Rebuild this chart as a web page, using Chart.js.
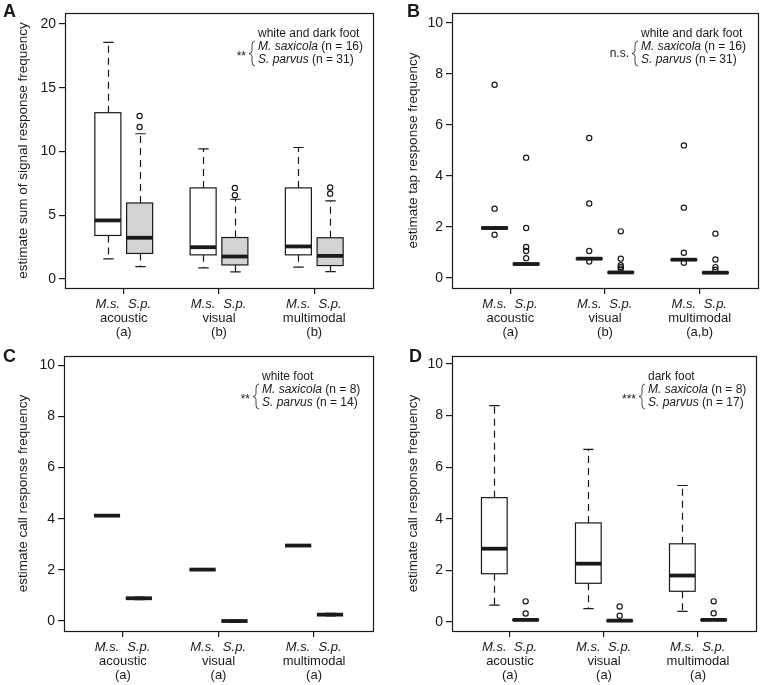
<!DOCTYPE html>
<html>
<head>
<meta charset="utf-8">
<script src="https://cdn.jsdelivr.net/npm/chart.js@4.4.1/dist/chart.umd.min.js"></script>
<style>
  body { margin: 0; background: #fff; }
  .panel { position: absolute; }
</style>
</head>
<body>
<div class="panel" style="left:0;top:0"><canvas id="chartA" width="382" height="340"></canvas></div>
<div class="panel" style="left:382px;top:0"><canvas id="chartB" width="382" height="340"></canvas></div>
<div class="panel" style="left:0;top:340px"><canvas id="chartC" width="382" height="345"></canvas></div>
<div class="panel" style="left:382px;top:340px"><canvas id="chartD" width="382" height="345"></canvas></div>
<script>
const groups = ['acoustic', 'visual', 'multimodal'];
const species = ['M.s.', 'S.p.'];
const positions = [1, 2, 4, 5, 7, 8];   // M.s./S.p. for each group
const groupCentres = [1.5, 4.5, 7.5];

// box stats per box: [lower whisker, Q1, median, Q3, upper whisker]
const statsA = [
  [1.57, 3.41, 4.59, 13.04, 18.56], [0.97, 2.0, 3.23, 5.96, 11.39],
  [0.87, 1.89, 2.49, 7.14, 10.2],   [0.55, 1.1, 1.76, 3.25, 6.25],
  [0.92, 1.89, 2.55, 7.14, 10.31],  [0.58, 1.05, 1.81, 3.23, 6.12]
];
const outliersA = [[], [11.92, 12.78], [], [6.56, 7.14], [], [6.69, 7.17]];
const lettersA = ['(a)', '(b)', '(b)'];
const ticksA = [0, 5, 10, 15, 20];

const statsB = [
  [1.93, 1.93, 1.96, 2.0, 2.0],  [0.52, 0.52, 0.55, 0.58, 0.58],
  [0.74, 0.74, 0.76, 0.78, 0.78], [0.2, 0.2, 0.22, 0.24, 0.24],
  [0.7, 0.7, 0.72, 0.74, 0.74],  [0.19, 0.19, 0.21, 0.23, 0.23]
];
const outliersB = [
  [1.70, 2.72, 7.58], [0.78, 1.06, 1.22, 1.96, 4.72],
  [0.65, 1.06, 2.92, 5.49], [0.37, 0.43, 0.50, 0.76, 1.83],
  [0.60, 0.99, 2.76, 5.2], [0.33, 0.43, 0.73, 1.74]
];
const lettersB = ['(a)', '(b)', '(a,b)'];

const statsC = [
  [4.12, 4.12, 4.12, 4.12, 4.12], [0.84, 0.89, 0.89, 0.89, 0.94],
  [2.01, 2.01, 2.01, 2.01, 2.01], [-0.05, 0, 0, 0, 0.04],
  [2.95, 2.95, 2.95, 2.95, 2.95], [0.2, 0.25, 0.25, 0.25, 0.3]
];
const outliersC = [[], [], [], [], [], []];
const lettersC = ['(a)', '(a)', '(a)'];

const statsD = [
  [0.65, 1.87, 2.84, 4.82, 8.39], [0.06, 0.06, 0.08, 0.1, 0.1],
  [0.52, 1.50, 2.26, 3.84, 6.69], [0.03, 0.03, 0.05, 0.07, 0.07],
  [0.41, 1.19, 1.80, 3.03, 5.29], [0.06, 0.06, 0.08, 0.1, 0.1]
];
const outliersD = [[], [0.33, 0.8], [], [0.24, 0.6], [], [0.34, 0.8]];
const lettersD = ['(a)', '(a)', '(a)'];

const ticks10 = [0, 2, 4, 6, 8, 10];

const INK = '#1a1a1a';
const FONT = "'Liberation Sans', Arial, Helvetica, sans-serif";
Chart.defaults.font.family = FONT;
Chart.defaults.color = INK;

function brace(ctx, x, yTop, yBot) {
  const ym = (yTop + yBot) / 2, w = 3;
  ctx.beginPath();
  ctx.moveTo(x + w, yTop);
  ctx.quadraticCurveTo(x, yTop, x, yTop + 4);
  ctx.lineTo(x, ym - 3);
  ctx.quadraticCurveTo(x, ym, x - w, ym);
  ctx.quadraticCurveTo(x, ym, x, ym + 3);
  ctx.lineTo(x, yBot - 4);
  ctx.quadraticCurveTo(x, yBot, x + w, yBot);
  ctx.stroke();
}

// draws boxes/whiskers/medians and the R-style furniture
const boxPlugin = {
  id: 'boxes',
  beforeDatasetsDraw(chart, args, opts) {
    const { ctx, scales: { x, y } } = chart;
    const half = 0.41;
    ctx.save();
    opts.stats.forEach((s, i) => {
      const pos = positions[i];
      const xc = Math.round(x.getPixelForValue(pos)) + 0.5;
      const x0 = x.getPixelForValue(pos - half);
      const x1 = x.getPixelForValue(pos + half);
      const cap = (x1 - x0) * 0.2;
      const [lo, q1, med, q3, hi] = s.map(v => y.getPixelForValue(v));
      ctx.strokeStyle = INK;
      ctx.lineWidth = 1.2;
      // dashed whiskers
      ctx.setLineDash([7, 5]);
      ctx.beginPath();
      ctx.moveTo(xc, q3); ctx.lineTo(xc, hi);
      ctx.moveTo(xc, q1); ctx.lineTo(xc, lo);
      ctx.stroke();
      ctx.setLineDash([]);
      ctx.beginPath();
      ctx.moveTo(xc - cap, hi); ctx.lineTo(xc + cap, hi);
      ctx.moveTo(xc - cap, lo); ctx.lineTo(xc + cap, lo);
      ctx.stroke();
      // box
      ctx.fillStyle = i % 2 ? '#d3d3d3' : '#ffffff';
      ctx.fillRect(x0, q3, x1 - x0, q1 - q3);
      ctx.strokeRect(x0, q3, x1 - x0, q1 - q3);
      // median
      ctx.lineWidth = 3.8;
      ctx.beginPath();
      ctx.moveTo(x0, med); ctx.lineTo(x1, med);
      ctx.stroke();
    });
    ctx.restore();
  },
  afterDraw(chart, args, opts) {
    const { ctx, chartArea: a, scales: { x } } = chart;
    ctx.save();
    ctx.strokeStyle = INK;
    ctx.fillStyle = INK;
    ctx.lineWidth = 1.2;
    ctx.strokeRect(Math.round(a.left) + 0.5, Math.round(a.top) + 0.5,
                   Math.round(a.right - a.left), Math.round(a.bottom - a.top));

    // panel letter
    ctx.font = 'bold 18px ' + FONT;
    ctx.textAlign = 'left';
    ctx.textBaseline = 'alphabetic';
    ctx.fillText(opts.panel, opts.panelX, opts.panelY);

    // x labels under each group
    ctx.textAlign = 'center';
    ctx.textBaseline = 'middle';
    positions.forEach((p, i) => {
      ctx.font = 'italic 13px ' + FONT;
      ctx.fillText(species[i % 2], x.getPixelForValue(p), a.bottom + 16);
    });
    ctx.font = '13px ' + FONT;
    groupCentres.forEach((c, i) => {
      ctx.fillText(groups[i], x.getPixelForValue(c), a.bottom + 30);
      ctx.fillText(opts.letters[i], x.getPixelForValue(c), a.bottom + 44);
    });

    // legend block
    const x0 = a.left + opts.legendDx;
    const ys = [a.top + 21, a.top + 34, a.top + 47];
    ctx.textAlign = 'left';
    ctx.font = '12px ' + FONT;
    ctx.fillText(opts.legendTitle, x0, ys[0]);
    opts.entries.forEach((e, i) => {
      ctx.font = 'italic 12px ' + FONT;
      ctx.fillText(e[0], x0, ys[i + 1]);
      const w = ctx.measureText(e[0]).width;
      ctx.font = '12px ' + FONT;
      ctx.fillText(e[1], x0 + w, ys[i + 1]);
    });
    ctx.lineWidth = 0.8;
    brace(ctx, x0 - 6, ys[1] - 6, ys[2] + 6);
    ctx.textAlign = 'right';
    ctx.font = '12px ' + FONT;
    const sy = (ys[1] + ys[2]) / 2 + (opts.sig.startsWith('*') ? 3 : 0);
    ctx.fillText(opts.sig, x0 - 12, sy);
    ctx.restore();
  }
};

function makeChart(id, cfg) {
  const points = cfg.outliers.flatMap((vals, i) => vals.map(v => ({ x: positions[i], y: v })));
  return new Chart(document.getElementById(id), {
    type: 'scatter',
    data: {
      datasets: [{
        data: points,
        pointRadius: 2.6,
        pointBorderWidth: 1.2,
        borderColor: INK,
        backgroundColor: 'rgba(0,0,0,0)'
      }]
    },
    options: {
      responsive: false,
      animation: false,
      layout: { padding: { top: cfg.pad[0], right: cfg.pad[1], bottom: 0, left: 0 } },
      scales: {
        x: {
          type: 'linear', min: -0.35, max: 9.35,
          afterBuildTicks: s => { s.ticks = groupCentres.map(v => ({ value: v })); },
          afterFit: s => { s.height = cfg.xHeight; },
          border: { display: false },
          grid: { drawOnChartArea: false, drawTicks: true, tickLength: 6, color: INK, lineWidth: 1.2 },
          ticks: { callback: () => '' }
        },
        y: {
          type: 'linear', min: cfg.yMin, max: cfg.yMax,
          afterBuildTicks: s => { s.ticks = cfg.yTicks.map(v => ({ value: v })); },
          afterFit: s => { s.width = cfg.yWidth; },
          border: { display: false },
          grid: { drawOnChartArea: false, drawTicks: true, tickLength: 6, color: INK, lineWidth: 1.2 },
          ticks: { padding: 3, font: { size: 14 }, color: INK },
          title: {
            display: true, text: cfg.yTitle, color: INK,
            font: { size: 13.5 }, padding: { top: cfg.titlePad, bottom: 0 }
          }
        }
      },
      plugins: {
        legend: { display: false },
        tooltip: { enabled: false },
        boxes: {
          stats: cfg.stats, letters: cfg.letters, panel: cfg.panel,
          panelX: cfg.panelPos[0], panelY: cfg.panelPos[1],
          legendTitle: cfg.legendTitle, entries: cfg.entries,
          sig: cfg.sig, legendDx: cfg.legendDx
        }
      }
    },
    plugins: [boxPlugin]
  });
}

makeChart('chartA', {
  stats: statsA, outliers: outliersA, letters: lettersA, yTicks: ticksA,
  yMin: -0.71, yMax: 20.86, yWidth: 65, xHeight: 52, pad: [13, 9], titlePad: 15,
  yTitle: 'estimate sum of signal response frequency',
  panel: 'A', panelPos: [3, 17],
  legendTitle: 'white and dark foot', sig: '**', legendDx: 193,
  entries: [['M. saxicola', ' (n = 16)'], ['S. parvus', ' (n = 31)']]
});
makeChart('chartB', {
  stats: statsB, outliers: outliersB, letters: lettersB, yTicks: ticks10,
  yMin: -0.39, yMax: 10.39, yWidth: 70, xHeight: 52, pad: [13, 6], titlePad: 23,
  yTitle: 'estimate tap response frequency',
  panel: 'B', panelPos: [25, 17],
  legendTitle: 'white and dark foot', sig: 'n.s.', legendDx: 189,
  entries: [['M. saxicola', ' (n = 16)'], ['S. parvus', ' (n = 31)']]
});
makeChart('chartC', {
  stats: statsC, outliers: outliersC, letters: lettersC, yTicks: ticks10,
  yMin: -0.39, yMax: 10.36, yWidth: 64, xHeight: 54, pad: [16, 9], titlePad: 15,
  yTitle: 'estimate call response frequency',
  panel: 'C', panelPos: [3, 22],
  legendTitle: 'white foot', sig: '**', legendDx: 198,
  entries: [['M. saxicola', ' (n = 8)'], ['S. parvus', ' (n = 14)']]
});
makeChart('chartD', {
  stats: statsD, outliers: outliersD, letters: lettersD, yTicks: ticks10,
  yMin: -0.35, yMax: 10.31, yWidth: 70, xHeight: 54, pad: [16, 8], titlePad: 23,
  yTitle: 'estimate call response frequency',
  panel: 'D', panelPos: [27, 22],
  legendTitle: 'dark foot', sig: '***', legendDx: 196,
  entries: [['M. saxicola', ' (n = 8)'], ['S. parvus', ' (n = 17)']]
});
</script>
</body>
</html>
